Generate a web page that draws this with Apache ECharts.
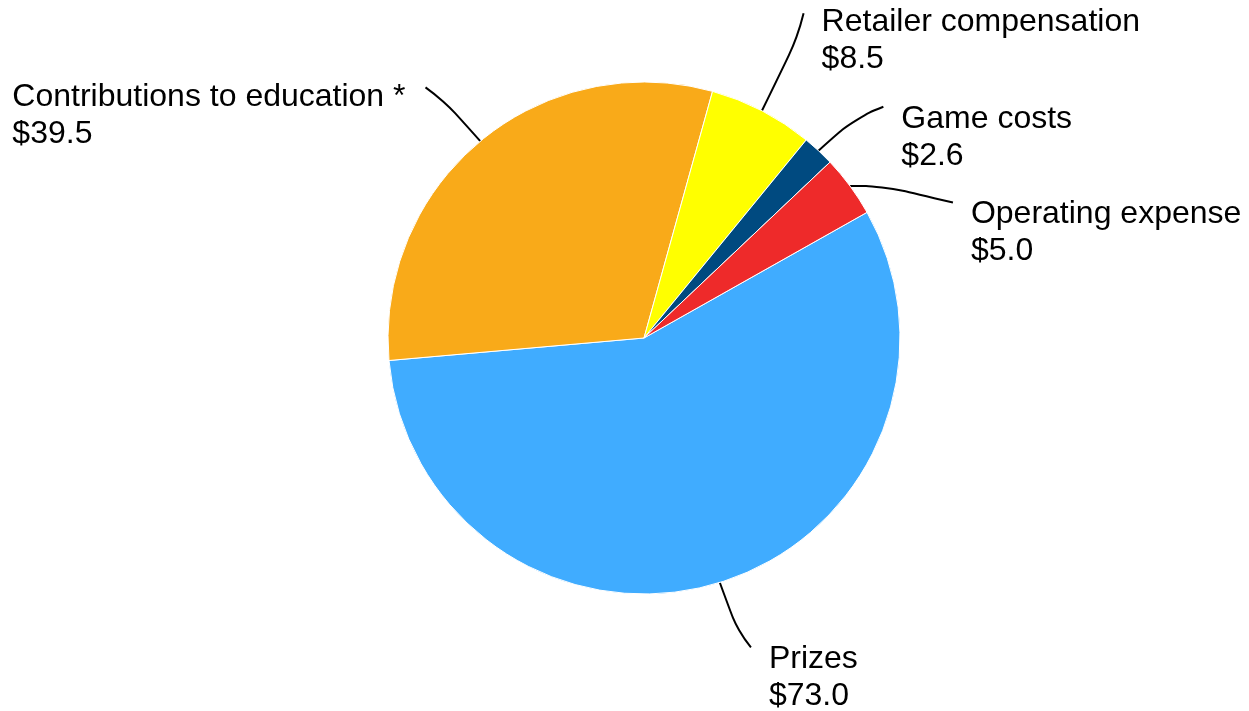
<!DOCTYPE html>
<html>
<head>
<meta charset="utf-8">
<script src="https://cdn.jsdelivr.net/npm/echarts@6/dist/echarts.min.js"></script>
<style>
  html, body { margin: 0; padding: 0; background: #fff; }
  #chart { width: 1249px; height: 711px; }
</style>
</head>
<body>
<div id="chart"></div>
<script>
// slices, clockwise from the start angle
const categories = ['Prizes', 'Contributions to education *', 'Retailer compensation', 'Game costs', 'Operating expense']
const values = [73.0, 39.5, 8.5, 2.6, 5.0]
const colors = ['#40acff', '#f9aa19', '#ffff00', '#004a80', '#ee2a2a']

// label line lengths [radial, horizontal], shift of the line end, extra text shift
const lineLengths = [[68, 11], [70, 10], [110, 0], [60, 24], [16, 90]]
const lineEndShift = [[0, 0], [0, 0], [-9, 0], [0, 0], [0, 26]]
const textShift = [[0, 2], [-2, 0], [0, 0], [0, 3], [0, 2]]
// text hangs below the end of its line instead of being centred on it
const textDrop = 28

const chart = echarts.init(document.getElementById('chart'))

const pieData = categories.map((name, i) => ({
  name: name,
  value: values[i],
  itemStyle: { color: colors[i] },
  labelLine: { length: lineLengths[i][0], length2: lineLengths[i][1] },
}))

chart.setOption({
  animation: false,
  series: [
    {
      type: 'pie',
      center: [644, 338],
      radius: 256,
      startAngle: 29.4,
      clockwise: true,
      avoidLabelOverlap: false,
      itemStyle: { borderColor: '#fff', borderWidth: 1 },
      label: {
        show: true,
        position: 'outside',
        alignTo: 'none',
        distanceToLabelLine: 18,
        fontFamily: 'Liberation Sans, Arial, sans-serif',
        fontSize: 32,
        lineHeight: 37,
        color: '#000',
        formatter: (p) => p.name + '\n$' + p.value.toFixed(1),
      },
      labelLine: {
        show: true,
        smooth: 0.5,
        lineStyle: { color: '#000', width: 2 },
      },
      labelLayout: function (params) {
        const i = params.dataIndex
        const e = lineEndShift[i]
        const t = textShift[i]
        const dx = e[0] + t[0]
        const dy = e[1] + t[1] + textDrop
        const out = { dx: dx, dy: dy }
        if (params.align === 'right') {
          // left side: both lines start at the same x
          out.align = 'left'
          out.x = params.labelRect.x + dx
          out.dx = 0
        }
        const pts = params.labelLinePoints
        if (pts) {
          const p0 = pts[0]
          const c = pts[1]
          const p2 = [pts[2][0] + e[0], pts[2][1] + e[1]]
          // pass through the middle of a curve bent toward the corner
          const m = [(p0[0] + 2 * c[0] + p2[0]) / 4, (p0[1] + 2 * c[1] + p2[1]) / 4]
          out.labelLinePoints = [[p0[0], p0[1]], m, p2]
        }
        return out
      },
      data: pieData,
    },
  ],
})
</script>
</body>
</html>
